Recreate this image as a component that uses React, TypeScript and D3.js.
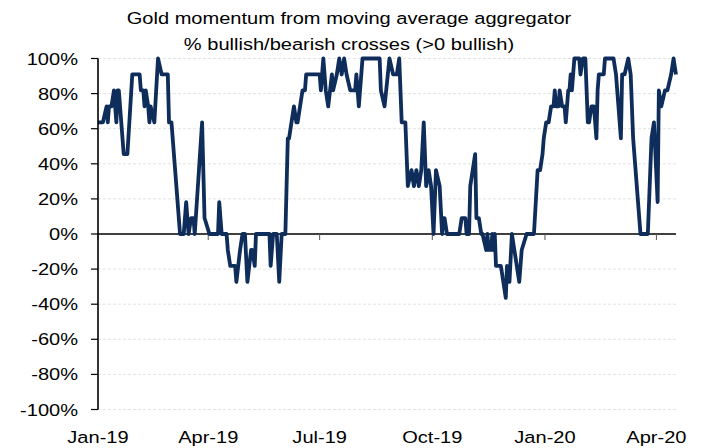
import React from 'react';
import * as d3 from 'd3';

const titleLines = ['Gold momentum from moving average aggregator', '% bullish/bearish crosses (>0 bullish)'];

const yTicks = [-100, -80, -60, -40, -20, 0, 20, 40, 60, 80, 100];

const xTickDates = ['2019-01-01', '2019-04-01', '2019-07-01', '2019-10-01', '2020-01-01', '2020-04-01'];
const xTickLabels = ['Jan-19', 'Apr-19', 'Jul-19', 'Oct-19', 'Jan-20', 'Apr-20'];

const xDomain = ['2019-01-01', '2020-04-17'];

const dates = [
  '2019-01-01', '2019-01-05', '2019-01-08', '2019-01-09', '2019-01-10', '2019-01-12', '2019-01-14', '2019-01-16',
  '2019-01-17', '2019-01-18', '2019-01-22', '2019-01-25', '2019-01-29', '2019-02-04', '2019-02-05', '2019-02-07',
  '2019-02-08', '2019-02-09', '2019-02-11', '2019-02-12', '2019-02-13', '2019-02-16', '2019-02-19', '2019-02-22',
  '2019-02-27', '2019-02-28', '2019-03-02', '2019-03-09', '2019-03-12', '2019-03-14', '2019-03-16', '2019-03-18',
  '2019-03-20', '2019-03-21', '2019-03-27', '2019-03-29', '2019-04-02', '2019-04-09', '2019-04-10', '2019-04-12',
  '2019-04-16', '2019-04-17', '2019-04-19', '2019-04-23', '2019-04-24', '2019-04-27', '2019-04-29', '2019-05-01',
  '2019-05-03', '2019-05-06', '2019-05-07', '2019-05-09', '2019-05-10', '2019-05-21', '2019-05-22', '2019-05-24',
  '2019-05-27', '2019-05-29', '2019-05-31', '2019-06-03', '2019-06-05', '2019-06-06', '2019-06-08', '2019-06-10',
  '2019-06-12', '2019-06-13', '2019-06-15', '2019-06-17', '2019-06-19', '2019-06-20', '2019-07-01', '2019-07-02',
  '2019-07-04', '2019-07-06', '2019-07-08', '2019-07-11', '2019-07-12', '2019-07-15', '2019-07-17', '2019-07-19',
  '2019-07-21', '2019-07-23', '2019-07-26', '2019-07-30', '2019-07-31', '2019-08-02', '2019-08-05', '2019-08-19',
  '2019-08-20', '2019-08-23', '2019-08-27', '2019-08-30', '2019-09-02', '2019-09-04', '2019-09-05', '2019-09-06',
  '2019-09-09', '2019-09-11', '2019-09-14', '2019-09-16', '2019-09-18', '2019-09-20', '2019-09-22', '2019-09-24',
  '2019-09-26', '2019-09-28', '2019-09-30', '2019-10-02', '2019-10-04', '2019-10-07', '2019-10-09', '2019-10-10',
  '2019-10-11', '2019-10-13', '2019-10-23', '2019-10-25', '2019-10-28', '2019-10-29', '2019-10-31', '2019-11-01',
  '2019-11-03', '2019-11-05', '2019-11-06', '2019-11-08', '2019-11-10', '2019-11-11', '2019-11-14', '2019-11-15',
  '2019-11-16', '2019-11-18', '2019-11-19', '2019-11-20', '2019-11-21', '2019-11-22', '2019-11-26', '2019-11-28',
  '2019-11-30', '2019-12-01', '2019-12-03', '2019-12-05', '2019-12-07', '2019-12-11', '2019-12-13', '2019-12-17',
  '2019-12-23', '2019-12-26', '2019-12-28', '2019-12-30', '2019-12-31', '2020-01-02', '2020-01-04', '2020-01-06',
  '2020-01-08', '2020-01-09', '2020-01-10', '2020-01-12', '2020-01-13', '2020-01-15', '2020-01-17', '2020-01-18',
  '2020-01-20', '2020-01-21', '2020-01-22', '2020-01-23', '2020-01-25', '2020-01-29', '2020-01-30', '2020-02-01',
  '2020-02-03', '2020-02-05', '2020-02-06', '2020-02-08', '2020-02-10', '2020-02-12', '2020-02-13', '2020-02-14',
  '2020-02-18', '2020-02-19', '2020-02-26', '2020-02-28', '2020-02-29', '2020-03-03', '2020-03-04', '2020-03-06',
  '2020-03-09', '2020-03-11', '2020-03-13', '2020-03-19', '2020-03-25', '2020-03-28', '2020-03-30', '2020-04-02',
  '2020-04-03', '2020-04-05', '2020-04-08', '2020-04-10', '2020-04-13', '2020-04-15', '2020-04-17',
];

const values = [
  63.6, 63.6, 72.7, 63.6, 72.7, 72.7, 81.8, 63.6,
  81.8, 81.8, 45.5, 45.5, 90.9, 90.9, 81.8, 81.8,
  72.7, 81.8, 72.7, 63.6, 72.7, 63.6, 100, 90.9,
  90.9, 63.6, 63.6, 0, 0, 18.2, 0, 9.1,
  9.1, 0, 63.6, 9.1, 0, 0, 18.2, 0,
  0, -9.1, -18.2, -18.2, -27.3, -9.1, 0, 0,
  -27.3, -9.1, -9.1, -18.2, 0, 0, -18.2, 0,
  0, -27.3, 0, 0, 54.5, 54.5, 63.6, 72.7,
  63.6, 63.6, 72.7, 81.8, 81.8, 90.9, 90.9, 81.8,
  100, 81.8, 72.7, 90.9, 81.8, 90.9, 100, 90.9,
  100, 90.9, 81.8, 81.8, 90.9, 72.7, 100, 100,
  81.8, 72.7, 100, 90.9, 90.9, 100, 81.8, 63.6,
  63.6, 27.3, 36.4, 27.3, 36.4, 27.3, 36.4, 63.6,
  27.3, 36.4, 27.3, 0, 36.4, 27.3, 0, 9.1,
  9.1, 0, 0, 9.1, 9.1, 0, 0, 27.3,
  36.4, 45.5, 9.1, 9.1, 0, 0, -9.1, 0,
  -9.1, -9.1, 0, -9.1, 0, -18.2, -18.2, -27.3,
  -36.4, -18.2, -27.3, 0, -9.1, -27.3, -9.1, 0,
  0, 36.4, 36.4, 45.5, 54.5, 63.6, 63.6, 72.7,
  72.7, 81.8, 72.7, 72.7, 81.8, 72.7, 72.7, 63.6,
  81.8, 81.8, 90.9, 81.8, 100, 100, 90.9, 100,
  100, 63.6, 63.6, 72.7, 72.7, 54.5, 81.8, 90.9,
  90.9, 100, 100, 90.9, 81.8, 54.5, 90.9, 90.9,
  100, 90.9, 54.5, 0, 0, 54.5, 63.6, 18.2,
  81.8, 72.7, 81.8, 81.8, 90.9, 100, 90.9,
];

const FONT = '"Liberation Sans", Arial, Helvetica, sans-serif';
const SX = 1.18;

export default function App() {
  const W = 706;
  const H = 448;
  const parse = d3.utcParse('%Y-%m-%d');
  const x = d3.scaleUtc().domain(xDomain.map((d) => parse(d) as Date)).range([98, 676]);
  const y = d3.scaleLinear().domain([-100, 100]).range([409.5, 58.5]);
  const data = dates.map((d, i) => ({ date: parse(d) as Date, value: values[i] }));
  const line = d3
    .line<{ date: Date; value: number }>()
    .x((d) => x(d.date))
    .y((d) => y(d.value));
  const pathD = line(data) || '';
  const [x0, x1] = x.range();
  const y0 = y(0);

  return (
    <div style={{ position: 'absolute', left: 0, top: 0 }}>
      <svg width={W} height={H} style={{ display: 'block', background: '#fff' }} fontFamily={FONT}>
        {titleLines.map((t, i) => (
          <text
            key={t}
            transform={`translate(349,${24 + i * 26}) scale(${SX},1)`}
            textAnchor="middle"
            fontSize={17}
            fill="#000"
          >
            {t}
          </text>
        ))}
        {yTicks
          .filter((t) => t !== 0)
          .map((t) => (
            <line
              key={'g' + t}
              x1={x0}
              x2={x1}
              y1={y(t)}
              y2={y(t)}
              stroke="#e2e2e2"
              strokeWidth={1}
              strokeDasharray="3,2"
            />
          ))}
        {yTicks.map((t) => (
          <g key={'yt' + t}>
            <line x1={91} x2={x0} y1={y(t)} y2={y(t)} stroke="#000" strokeWidth={1.2} />
            <text
              transform={`translate(78,${y(t) + 6}) scale(${SX},1)`}
              textAnchor="end"
              fontSize={17}
              fill="#000"
            >
              {`${t}%`}
            </text>
          </g>
        ))}
        <line x1={x0} x2={x1} y1={y0} y2={y0} stroke="#000" strokeWidth={1.6} />
        {xTickDates.map((d, i) => {
          const xp = x(parse(d) as Date);
          return (
            <g key={d}>
              <line x1={xp} x2={xp} y1={y0} y2={y0 + 6} stroke="#555" strokeWidth={1} />
              <text
                transform={`translate(${xp},443) scale(${SX},1)`}
                textAnchor="middle"
                fontSize={17}
                fill="#000"
              >
                {xTickLabels[i]}
              </text>
            </g>
          );
        })}
        <path d={pathD} fill="none" stroke="#0f2d5a" strokeWidth={3.8} strokeLinejoin="round" strokeLinecap="butt" />
        <line x1={x0} x2={x0} y1={y(100)} y2={y(-100)} stroke="#000" strokeWidth={1.6} />
      </svg>
    </div>
  );
}
